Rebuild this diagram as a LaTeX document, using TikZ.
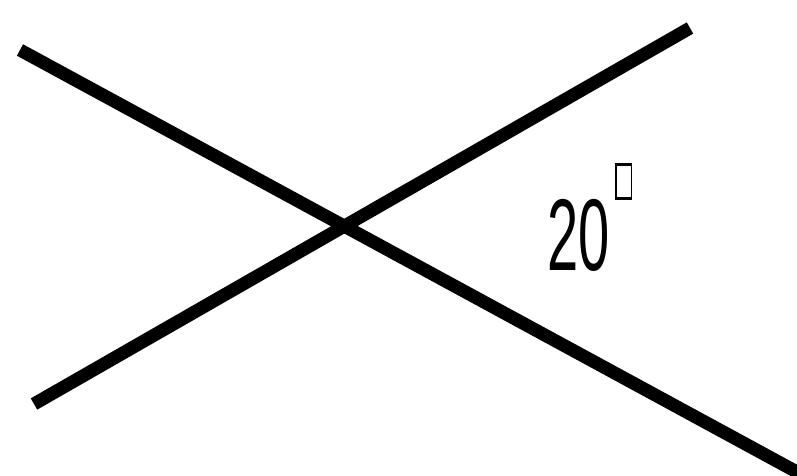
\documentclass[tikz,border=0pt]{standalone}
\usepackage{fontspec}
\setmainfont{Liberation Sans}

\begin{document}
\begin{tikzpicture}[x=0.02cm, y=-0.02cm, stroke/.style={line width=0.26cm}, every node/.style={font=\fontsize{58}{58}\selectfont, inner sep=0pt}]
        \useasboundingbox (0,0) rectangle (797,476);
        \coordinate (a1) at (20,50);
        \coordinate (a2) at (808,478);
        \coordinate (b1) at (34,404);
        \coordinate (b2) at (690,28);
        \draw[stroke] (a1) -- (a2);
        \draw[stroke] (b1) -- (b2);
        \node[xscale=0.55, anchor=base west] (angle) at (547,270) {20\hspace{0.1em}\raisebox{0.72em}{\setlength{\fboxrule}{2pt}\setlength{\fboxsep}{0pt}\fbox{\rule{0pt}{0.3em}\hspace{0.24em}}}};
      \end{tikzpicture}
\end{document}
